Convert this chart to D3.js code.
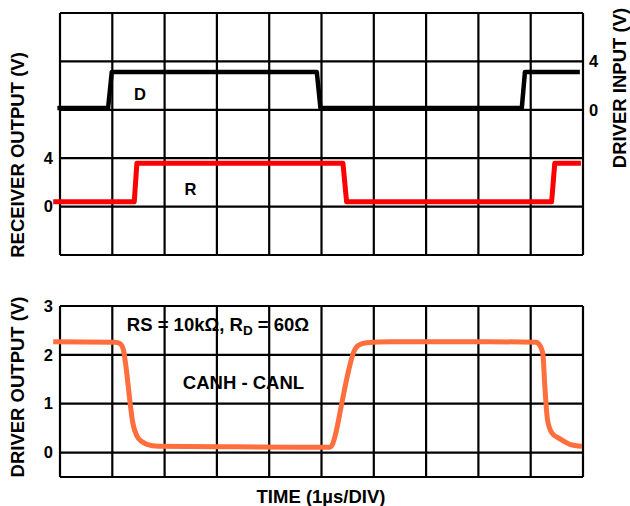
<!DOCTYPE html>
<html>
<head>
<meta charset="utf-8">
<script src="https://cdn.jsdelivr.net/npm/d3@7"></script>
<style>
  html, body { margin: 0; padding: 0; background: #fff; }
  svg { display: block; }
  text { font-family: "Liberation Sans", Arial, sans-serif; font-weight: bold; fill: #000; }
</style>
</head>
<body>
<svg id="chart" width="630" height="506"></svg>
<script>
// ---- Data (time in µs, 1 µs/div) ----
const timeTicks = [0, 1, 2, 3, 4, 5, 6, 7, 8, 9, 10];

// Driver input D (right axis, V)
const timeD = [-0.05, 0.92, 0.99, 4.91, 4.98, 8.83, 8.89, 9.94];
const voltD = [0.15, 0.15, 3.13, 3.13, 0.15, 0.15, 3.13, 3.13];

// Receiver output R (left axis, V)
const timeR = [-0.13, 1.42, 1.47, 5.41, 5.48, 9.40, 9.46, 9.96];
const voltR = [0.4, 0.4, 3.58, 3.58, 0.4, 0.4, 3.58, 3.58];

// Driver output CANH - CANL (V)
const timeOut = [-0.13, 1.05, 1.15, 1.21, 1.26, 1.34, 1.39, 1.47, 1.57, 1.66, 1.88, 3.0, 4.5, 5.16, 5.21, 5.26, 5.39, 5.51, 5.61, 5.70, 5.86, 6.31, 8.0, 9.10, 9.15, 9.23, 9.27, 9.32, 9.40, 9.56, 9.75, 9.98];
const voltOut = [2.27, 2.26, 2.23, 2.11, 1.77, 1.02, 0.62, 0.34, 0.22, 0.17, 0.13, 0.12, 0.11, 0.11, 0.17, 0.34, 1.02, 1.64, 2.04, 2.19, 2.25, 2.27, 2.27, 2.26, 2.23, 2.04, 1.36, 0.68, 0.41, 0.28, 0.17, 0.13];

// Tick labels
const recvTicks = [0, 4];
const drvInTicks = [0, 4];
const drvOutTicks = [0, 1, 2, 3];

// ---- Layout ----
const svg = d3.select("#chart");
const X0 = 60, X1 = 583;
const topPanel = { y0: 13, y1: 255 };
const botPanel = { y0: 306, y1: 477 };

const x = d3.scaleLinear().domain([0, 10]).range([X0, X1]);
const yRecv = d3.scaleLinear().domain([-4, 16]).range([topPanel.y1, topPanel.y0]);
const yDrvIn = d3.scaleLinear().domain([-12, 8]).range([topPanel.y1, topPanel.y0]);
const yOut = d3.scaleLinear().domain([-0.5, 3]).range([botPanel.y1, botPanel.y0]);

const gridW = 2.2;
const titleSize = 18.5;

function panelGrid(y0, y1, hVals, yScale) {
  const g = svg.append("g");
  g.selectAll("line.v").data(timeTicks).join("line")
    .attr("x1", d => x(d)).attr("x2", d => x(d))
    .attr("y1", y0).attr("y2", y1)
    .attr("stroke", "#000").attr("stroke-width", gridW);
  g.selectAll("line.h").data(hVals).join("line")
    .attr("x1", X0).attr("x2", X1)
    .attr("y1", d => yScale(d)).attr("y2", d => yScale(d))
    .attr("stroke", "#000").attr("stroke-width", gridW);
}

panelGrid(topPanel.y0, topPanel.y1, d3.range(-4, 17, 4), yRecv);
panelGrid(botPanel.y0, botPanel.y1, [-0.5, 0, 1, 2, 3], yOut);

// ---- Tick labels ----
function tickAxis(axis, tx) {
  const g = svg.append("g").attr("transform", `translate(${tx},0)`).call(axis);
  g.select(".domain").remove();
  g.selectAll(".tick line").remove();
  g.selectAll(".tick text")
    .attr("font-family", "Liberation Sans, Arial, sans-serif")
    .attr("font-weight", "bold").attr("font-size", 16.5).attr("fill", "#000");
  return g;
}
tickAxis(d3.axisLeft(yRecv).tickValues(recvTicks).tickSize(0).tickPadding(7).tickFormat(d3.format("d")), X0);
tickAxis(d3.axisRight(yDrvIn).tickValues(drvInTicks).tickSize(0).tickPadding(6).tickFormat(d3.format("d")), X1);
tickAxis(d3.axisLeft(yOut).tickValues(drvOutTicks).tickSize(0).tickPadding(7).tickFormat(d3.format("d")), X0);

// ---- Traces ----
const lineD = d3.line().x((d, i) => x(timeD[i])).y((d, i) => yDrvIn(voltD[i]));
svg.append("path").datum(voltD).attr("d", lineD)
  .attr("fill", "none").attr("stroke", "#000").attr("stroke-width", 4.5)
  .attr("stroke-linejoin", "round");

const lineR = d3.line().x((d, i) => x(timeR[i])).y((d, i) => yRecv(voltR[i]));
svg.append("path").datum(voltR).attr("d", lineR)
  .attr("fill", "none").attr("stroke", "#ff0000").attr("stroke-width", 5)
  .attr("stroke-linejoin", "round");

const lineOut = d3.line().curve(d3.curveMonotoneX)
  .x((d, i) => x(timeOut[i])).y((d, i) => yOut(voltOut[i]));
svg.append("path").datum(voltOut).attr("d", lineOut)
  .attr("fill", "none").attr("stroke", "#ff6e3c").attr("stroke-width", 5)
  .attr("stroke-linejoin", "round");

// ---- Annotations ----
svg.append("text").attr("x", 140).attr("y", 94).attr("text-anchor", "middle")
  .attr("dominant-baseline", "central").attr("font-size", 16.5).text("D");
svg.append("text").attr("x", 190.5).attr("y", 189).attr("text-anchor", "middle")
  .attr("dominant-baseline", "central").attr("font-size", 16.5).text("R");

const rs = svg.append("text").attr("x", 218).attr("y", 331).attr("text-anchor", "middle")
  .attr("font-size", titleSize);
rs.append("tspan").text("RS = 10kΩ, R");
rs.append("tspan").attr("dy", 4).attr("font-size", 13.5).text("D");
rs.append("tspan").attr("dy", -4).text(" = 60Ω");

svg.append("text").attr("x", 243.5).attr("y", 382).attr("text-anchor", "middle")
  .attr("dominant-baseline", "central").attr("font-size", titleSize).text("CANH - CANL");

// ---- Axis titles ----
svg.append("text").attr("transform", "translate(17.5,155) rotate(-90)")
  .attr("text-anchor", "middle").attr("dominant-baseline", "central")
  .attr("font-size", titleSize).text("RECEIVER OUTPUT (V)");
svg.append("text").attr("transform", "translate(619,88) rotate(-90)")
  .attr("text-anchor", "middle").attr("dominant-baseline", "central")
  .attr("font-size", titleSize).text("DRIVER INPUT (V)");
svg.append("text").attr("transform", "translate(17.5,387) rotate(-90)")
  .attr("text-anchor", "middle").attr("dominant-baseline", "central")
  .attr("font-size", titleSize).text("DRIVER OUTPUT (V)");
svg.append("text").attr("x", 321).attr("y", 496).attr("text-anchor", "middle")
  .attr("dominant-baseline", "central").attr("font-size", titleSize).text("TIME (1µs/DIV)");
</script>
</body>
</html>
